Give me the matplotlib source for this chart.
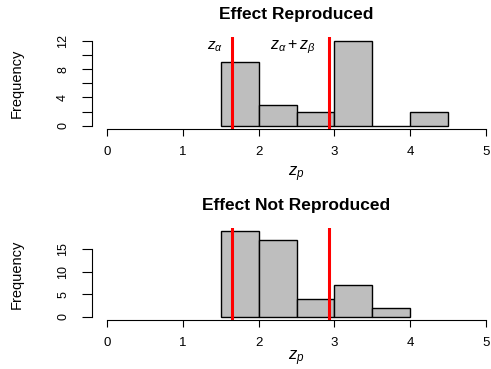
import matplotlib
matplotlib.use("Agg")
import matplotlib.pyplot as plt
import numpy as np

plt.rcParams['font.family'] = ['Liberation Sans', 'DejaVu Sans']
plt.rcParams['mathtext.fontset'] = 'custom'
plt.rcParams['mathtext.rm'] = 'Liberation Sans'
plt.rcParams['mathtext.it'] = 'Liberation Sans:italic'

bin_edges = [1.5, 2.0, 2.5, 3.0, 3.5, 4.0, 4.5]
counts_repro = [9, 3, 2, 12, 0, 2]
bin_edges_not = [1.5, 2.0, 2.5, 3.0, 3.5, 4.0]
counts_not = [19, 17, 4, 7, 2]
z_alpha = 1.645
z_alpha_beta = 1.645 + 1.282
x_ticks = [0, 1, 2, 3, 4, 5]
titles = ["Effect Reproduced", "Effect Not Reproduced"]

W, H = 491, 369
fig = plt.figure(figsize=(W / 100, H / 100), dpi=100)

def setup(ax, edges, counts, ymax, yticks, ylabels, title, annotate, xpad):
    left = np.array(edges[:-1])
    widths = np.diff(edges)
    ax.bar(left, counts, width=widths, align='edge', color='#bebebe',
           edgecolor='black', linewidth=1.0)
    ax.axvline(z_alpha, color='#ff0000', lw=2.2)
    ax.axvline(z_alpha_beta, color='#ff0000', lw=2.2)
    ax.set_xlim(-0.2, 5.2)
    ax.set_ylim(-0.04 * ymax, ymax * 1.04)
    for s in ['top', 'right']:
        ax.spines[s].set_visible(False)
    ax.spines['left'].set_bounds(0, yticks[-1])
    ax.spines['bottom'].set_bounds(0, 5)
    ax.set_xticks(x_ticks)
    ax.set_xticklabels([str(t) for t in x_ticks], fontsize=9.5)
    ax.set_yticks(yticks)
    ax.set_yticklabels(ylabels, fontsize=9, rotation=90, va='center')
    ax.tick_params(axis='x', direction='out', length=5, width=0.8, pad=7)
    ax.tick_params(axis='y', direction='out', length=7.5, width=0.8, pad=9)
    ax.set_title(title, fontsize=12.5, fontweight='bold', pad=13)
    ax.set_xlabel(r'$z_p$', fontsize=12, labelpad=xpad)
    ax.set_ylabel('Frequency', fontsize=10.5, labelpad=24)
    if annotate:
        ax.text(1.42, 11.1, r'$z_\alpha$', fontsize=11, ha='center', va='center')
        ax.text(2.45, 11.1, r'$z_\alpha + z_\beta$', fontsize=11.5, ha='center', va='center')

def pos(l, r, t, b):
    return [l / W, 1 - b / H, (r - l) / W, (b - t) / H]

ax1 = fig.add_axes(pos(92, 501, 37.3, 129.2))
setup(ax1, bin_edges, counts_repro, 12, [0, 2, 4, 6, 8, 10, 12],
      ['0', '', '4', '', '8', '', '12'], titles[0], True, 5)
ax2 = fig.add_axes(pos(92, 501, 228.0, 320.1))
setup(ax2, bin_edges_not, counts_not, 19, [0, 5, 10, 15],
      ['0', '5', '10', '15'], titles[1], False, 0)

fig.savefig('out.png', dpi=100)
